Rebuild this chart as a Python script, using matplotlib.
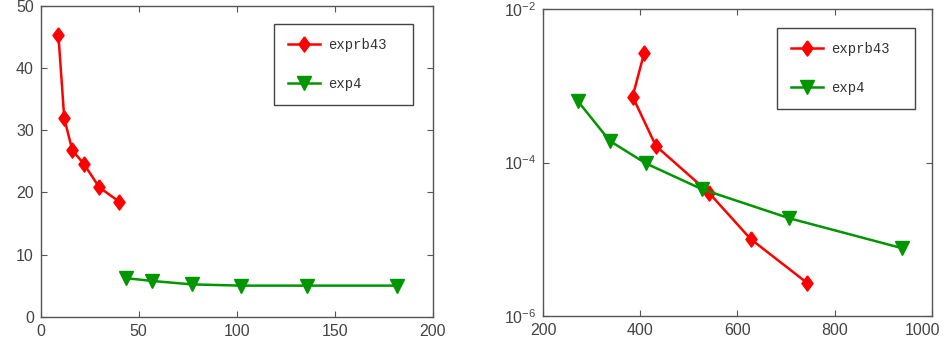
import math
import matplotlib
matplotlib.use("Agg")
import matplotlib.pyplot as plt
from matplotlib.ticker import FixedLocator, FuncFormatter, NullLocator
from matplotlib.transforms import ScaledTranslation

# cost vs. step count (left)
steps_exprb43 = [9.0, 12.0, 16.1, 22.2, 29.9, 40.1]
cost_exprb43 = [45.4, 31.9, 26.8, 24.5, 20.8, 18.5]
steps_exp4 = [43.4, 57.0, 77.0, 102.2, 136.0, 182.0]
cost_exp4 = [6.2, 5.75, 5.2, 5.0, 5.0, 5.0]

# error vs. work (right)
work_exprb43 = [408, 384, 432, 541, 627, 744]
err_exprb43 = [2.72e-3, 7.26e-4, 1.65e-4, 4.06e-5, 1.01e-5, 2.68e-6]
work_exp4 = [271, 337, 411, 527, 707, 939]
err_exp4 = [6.37e-4, 1.92e-4, 9.8e-5, 4.5e-5, 1.88e-5, 7.66e-6]

labels = ["exprb43", "exp4"]

red = "#ff0000"
green = "#009600"
grey = "#555555"

plt.rcParams["font.family"] = ["Liberation Sans", "DejaVu Sans"]
plt.rcParams["mathtext.fontset"] = "custom"
plt.rcParams["mathtext.rm"] = "Liberation Sans"
plt.rcParams["mathtext.it"] = "Liberation Sans"
plt.rcParams["mathtext.default"] = "regular"

# tall MATLAB-style diamond
diamond = [(0, 1), (0.73, 0), (0, -1), (-0.73, 0), (0, 1)]

fig = plt.figure(figsize=(9.43, 3.52), dpi=100)
ax1 = fig.add_axes([0.0432, 0.1003, 0.4157, 0.8827])
ax2 = fig.add_axes([0.5761, 0.1023, 0.4119, 0.8713])


def style(ax):
    for s in ax.spines.values():
        s.set_color(grey)
        s.set_linewidth(1.0)
    ax.tick_params(direction="in", top=True, right=True, length=4,
                   color=grey, labelcolor="#444444", labelsize=11.5, pad=5)
    ax.minorticks_off()


def draw(ax, x1, y1, x2, y2, box):
    ax.plot(x1, y1, color=red, lw=1.8, marker=diamond, ms=11,
            mec=red, mfc=red, label=labels[0])
    ax.plot(x2, y2, color=green, lw=1.8, marker="v", ms=10,
            mec=green, mfc=green, label=labels[1])
    leg = ax.legend(loc="upper left", bbox_to_anchor=box, mode="expand",
                    prop={"family": "Liberation Mono", "size": 10},
                    frameon=True, fancybox=False, framealpha=1,
                    edgecolor="#444444", handlelength=2.3, labelspacing=1.8,
                    borderpad=1.0, handletextpad=0.6, borderaxespad=0)
    leg.get_frame().set_linewidth(1.0)
    for t in leg.get_texts():
        t.set_color("#333333")


draw(ax1, steps_exprb43, cost_exprb43, steps_exp4, cost_exp4,
     (0.595, 0.0, 0.355, 0.942))
ax1.set_xlim(0, 200)
ax1.set_ylim(0, 50)
ax1.set_xticks([0, 50, 100, 150, 200])
ax1.set_yticks([0, 10, 20, 30, 40, 50])
style(ax1)

draw(ax2, work_exprb43, err_exprb43, work_exp4, err_exp4,
     (0.601, 0.0, 0.356, 0.939))
ax2.set_yscale("log")
ax2.set_xlim(200, 1000)
ax2.set_ylim(1e-6, 1e-2)
ax2.set_xticks([200, 400, 600, 800, 1000])
ax2.yaxis.set_major_locator(FixedLocator([1e-6, 1e-4, 1e-2]))
ax2.yaxis.set_minor_locator(NullLocator())
ax2.yaxis.set_major_formatter(
    FuncFormatter(lambda v, p: r"$10^{%d}$" % round(math.log10(v))))
style(ax2)

# pull the last x label in so it stays on the canvas
last = ax2.get_xticklabels()[-1]
last.set_transform(last.get_transform()
                   + ScaledTranslation(-0.09, 0, fig.dpi_scale_trans))

fig.savefig("out.png", dpi=100)
